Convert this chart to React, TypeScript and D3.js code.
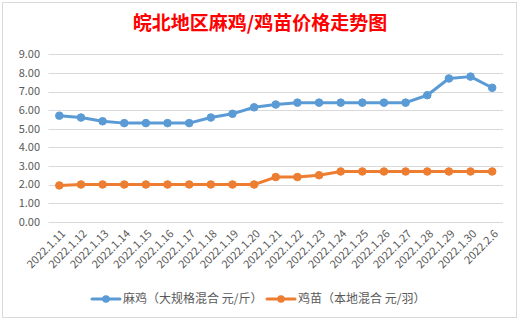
import React from "react";
import * as d3 from "d3";

const categories = [
  "2022.1.11", "2022.1.12", "2022.1.13", "2022.1.14", "2022.1.15", "2022.1.16", "2022.1.17",
  "2022.1.18", "2022.1.19", "2022.1.20", "2022.1.21", "2022.1.22", "2022.1.23", "2022.1.24",
  "2022.1.25", "2022.1.26", "2022.1.27", "2022.1.28", "2022.1.29", "2022.1.30", "2022.2.6",
];
const maJi = [5.7, 5.6, 5.4, 5.3, 5.3, 5.3, 5.3, 5.6, 5.8, 6.15, 6.3, 6.4, 6.4, 6.4, 6.4, 6.4, 6.4, 6.8, 7.7, 7.8, 7.2];
const jiMiao = [1.95, 2.0, 2.0, 2.0, 2.0, 2.0, 2.0, 2.0, 2.0, 2.0, 2.4, 2.4, 2.5, 2.7, 2.7, 2.7, 2.7, 2.7, 2.7, 2.7, 2.7];
const yTicks = [0, 1, 2, 3, 4, 5, 6, 7, 8, 9];
const seriesNames = ["麻鸡（大规格混合 元/斤）", "鸡苗（本地混合 元/羽）"];
const colors = ["#5B9BD5", "#ED7D31"];
const title = "皖北地区麻鸡/鸡苗价格走势图";

export default function App() {
  const W = 521, H = 322;
  const left = 48.5, right = 503, top = 54.3, bottom = 221.7;
  const x = d3.scaleBand<string>().domain(categories).range([left, right]);
  const y = d3.scaleLinear().domain([0, 9]).range([bottom, top]);
  const cx = (c: string) => (x(c) as number) + x.bandwidth() / 2;
  const line = d3.line<number>().x((_, i) => cx(categories[i])).y((d) => y(d));
  const font = "'Noto Sans CJK SC', 'Noto Sans', sans-serif";
  const series = [maJi, jiMiao];
  const legendX = [92, 267];

  return (
    <svg width={W} height={H} style={{ position: "fixed", left: 0, top: 0, background: "#fff" }} fontFamily={font}>
      <rect x={0} y={0} width={W} height={H} fill="#fff" />
      <rect x={2.5} y={2.5} width={514} height={315} fill="#fff" stroke="#D9D9D9" />
      <text x={260} y={30} textAnchor="middle" fill="#FF0000" fontSize={19} fontWeight="bold">{title}</text>
      {yTicks.map((t) => (
        <g key={t}>
          <line x1={left} x2={right} y1={Math.round(y(t)) + 0.5} y2={Math.round(y(t)) + 0.5} stroke="#D9D9D9" />
          <text x={40} y={y(t)} dy="0.35em" textAnchor="end" fontSize={11} fill="#595959">{t.toFixed(2)}</text>
        </g>
      ))}
      {categories.map((c) => (
        <text key={c} x={0} y={0} dy="0.35em" textAnchor="end" fontSize={11} fill="#595959"
          transform={`translate(${cx(c) + 4},${bottom + 10}) rotate(-45)`}>{c}</text>
      ))}
      {series.map((s, k) => (
        <g key={k}>
          <path d={line(s) as string} fill="none" stroke={colors[k]} strokeWidth={3} strokeLinejoin="round" strokeLinecap="round" />
          {s.map((v, i) => (
            <circle key={i} cx={cx(categories[i])} cy={y(v)} r={3.8} fill={colors[k]} stroke={colors[k]} />
          ))}
        </g>
      ))}
      {seriesNames.map((n, k) => (
        <g key={n}>
          <line x1={legendX[k]} x2={legendX[k] + 28} y1={299} y2={299} stroke={colors[k]} strokeWidth={3} strokeLinecap="round" />
          <circle cx={legendX[k] + 14} cy={299} r={3.8} fill={colors[k]} />
          <text x={legendX[k] + 31} y={299} dy="0.35em" fontSize={12} fill="#595959">{n}</text>
        </g>
      ))}
    </svg>
  );
}
